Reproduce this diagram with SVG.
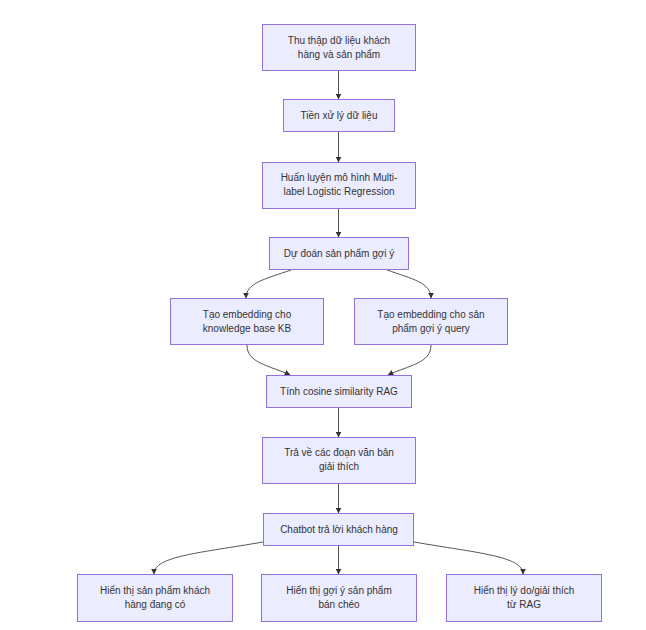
<svg xmlns="http://www.w3.org/2000/svg" width="646" height="630" viewBox="0 0 646 630">
  <style>
    .node rect { fill: #ECECFF; stroke: #9370DB; stroke-width: 1; }
    .node text { font-family: "Liberation Sans", Arial, sans-serif; font-size: 10px; fill: #333; text-anchor: middle; }
    .edge { fill: none; stroke: #555; stroke-width: 1; marker-end: url(#arrow); }
  </style>
  <defs>
    <marker id="arrow" viewBox="0 0 10 10" refX="9" refY="5" markerWidth="6" markerHeight="6" orient="auto" markerUnits="userSpaceOnUse">
      <path d="M0,0 L10,5 L0,10 z" fill="#333"/>
    </marker>
  </defs>
  <rect width="646" height="630" fill="#fff"/>

  <g id="connectors">
    <path class="edge" d="M338.5,71 L338.5,99"/>
    <path class="edge" d="M338.5,132 L338.5,162"/>
    <path class="edge" d="M338.5,208 L338.5,237"/>
    <path class="edge" d="M291,270 C265,279 246,283 246,298"/>
    <path class="edge" d="M387,270 C413,279 431,283 431,298"/>
    <path class="edge" d="M247,345 C247,363 268,365 290,375"/>
    <path class="edge" d="M431,345 C431,363 410,365 388,375"/>
    <path class="edge" d="M338.5,408 L338.5,437"/>
    <path class="edge" d="M338.5,483 L338.5,513"/>
    <path class="edge" d="M263,542 C200,553 154,556 154,574"/>
    <path class="edge" d="M338.5,545 L338.5,574"/>
    <path class="edge" d="M414,542 C477,553 523,556 523,574"/>
  </g>

  <g id="n1" class="node">
    <rect x="262.5" y="24.5" width="153" height="46"/>
    <text x="339" y="44">Thu thập dữ liệu khách</text>
    <text x="339" y="58">hàng và sản phẩm</text>
  </g>
  <g id="n2" class="node">
    <rect x="283.5" y="99.5" width="111" height="32"/>
    <text x="339" y="119">Tiền xử lý dữ liệu</text>
  </g>
  <g id="n3" class="node">
    <rect x="262.5" y="162.5" width="153" height="46"/>
    <text x="339" y="181">Huấn luyện mô hình Multi-</text>
    <text x="339" y="195">label Logistic Regression</text>
  </g>
  <g id="n4" class="node">
    <rect x="269.5" y="237.5" width="139" height="32"/>
    <text x="339" y="257">Dự đoán sản phẩm gợi ý</text>
  </g>
  <g id="n5a" class="node">
    <rect x="170.5" y="298.5" width="153" height="46"/>
    <text x="247" y="318">Tạo embedding cho</text>
    <text x="247" y="332">knowledge base KB</text>
  </g>
  <g id="n5b" class="node">
    <rect x="354.5" y="298.5" width="153" height="46"/>
    <text x="431" y="318">Tạo embedding cho sản</text>
    <text x="431" y="332">phẩm gợi ý query</text>
  </g>
  <g id="n6" class="node">
    <rect x="266.5" y="375.5" width="145" height="32"/>
    <text x="339" y="395">Tính cosine similarity RAG</text>
  </g>
  <g id="n7" class="node">
    <rect x="262.5" y="437.5" width="153" height="46"/>
    <text x="339" y="456">Trả về các đoạn văn bản</text>
    <text x="339" y="470">giải thích</text>
  </g>
  <g id="n8" class="node">
    <rect x="263.5" y="513.5" width="150" height="32"/>
    <text x="339" y="533">Chatbot trả lời khách hàng</text>
  </g>
  <g id="n9a" class="node">
    <rect x="77.5" y="574.5" width="155" height="47"/>
    <text x="155" y="594">Hiển thị sản phẩm khách</text>
    <text x="155" y="608">hàng đang có</text>
  </g>
  <g id="n9b" class="node">
    <rect x="261.5" y="574.5" width="155" height="47"/>
    <text x="339" y="594">Hiển thị gợi ý sản phẩm</text>
    <text x="339" y="608">bán chéo</text>
  </g>
  <g id="n9c" class="node">
    <rect x="446.5" y="574.5" width="155" height="47"/>
    <text x="524" y="594">Hiển thị lý do/giải thích</text>
    <text x="524" y="608">từ RAG</text>
  </g>
</svg>
